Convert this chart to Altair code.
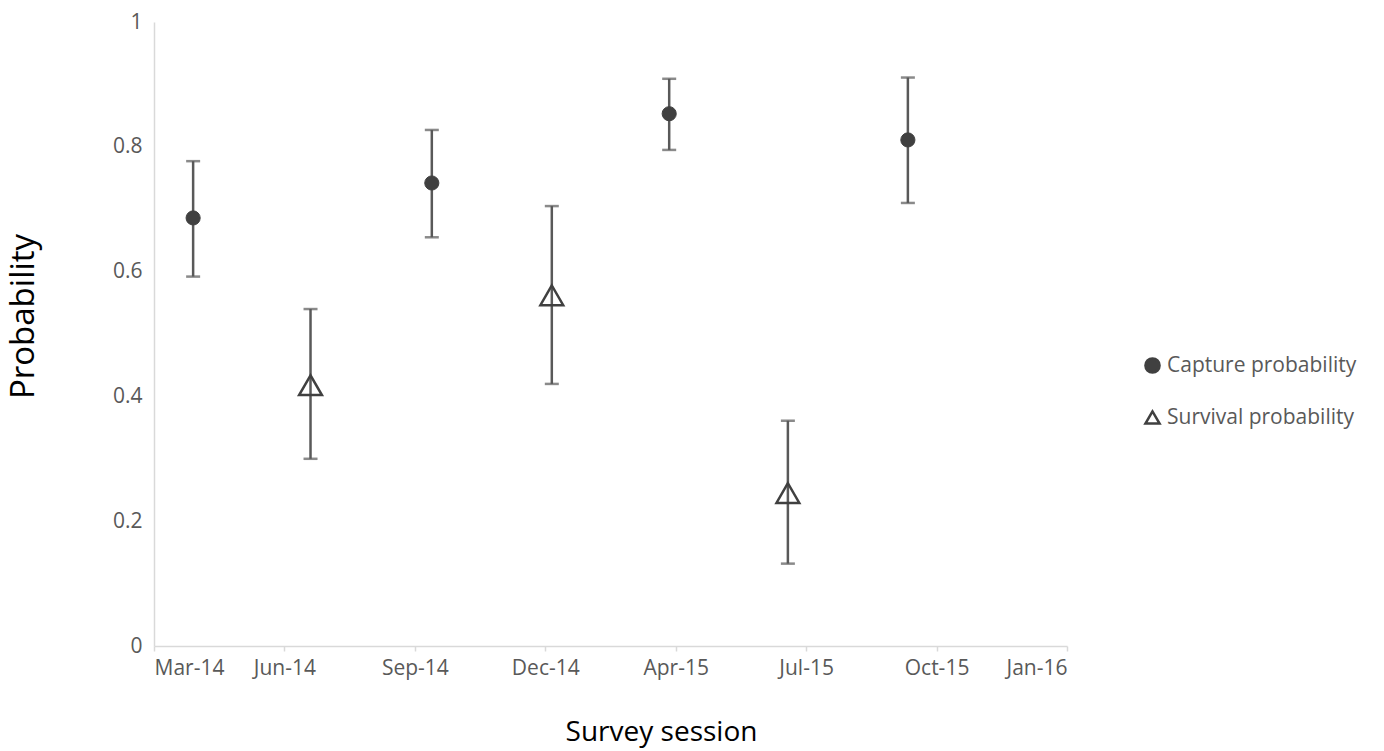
import altair as alt
import pandas as pd

# Survey sessions and estimated probabilities with 95% confidence limits
session_dates = ["2014-03-31", "2014-06-29", "2014-09-30", "2014-12-31",
                 "2015-03-31", "2015-06-30", "2015-09-30"]
series = ["Capture probability", "Survival probability", "Capture probability",
          "Survival probability", "Capture probability", "Survival probability",
          "Capture probability"]
estimate = [0.686, 0.418, 0.742, 0.562, 0.853, 0.245, 0.811]
lower = [0.592, 0.300, 0.655, 0.420, 0.795, 0.132, 0.710]
upper = [0.777, 0.540, 0.827, 0.705, 0.909, 0.361, 0.911]

# x axis ticks every 100 days from 1 March 2014
tick_dates = [(2014, 3, 1), (2014, 6, 9), (2014, 9, 17), (2014, 12, 26),
              (2015, 4, 5), (2015, 7, 14), (2015, 10, 22), (2016, 1, 30)]

df = pd.DataFrame({
    "date": session_dates,
    "series": series,
    "estimate": estimate,
    "lower": lower,
    "upper": upper,
})

def dt(y, m, d):
    return alt.DateTime(year=y, month=m, date=d, utc=True)

FONT = "Open Sans"
GREY = "#595959"
DARK = "#404040"
AXIS_LINE = "#d9d9d9"

x_enc = alt.X(
    "date:T",
    scale=alt.Scale(type="utc", domain=[dt(2014, 3, 1), dt(2016, 1, 30)]),
    axis=alt.Axis(
        title="Survey session",
        values=[dt(*t) for t in tick_dates],
        format="%b-%y",
        grid=False,
        domainColor=AXIS_LINE,
        domainWidth=1.5,
        tickColor=AXIS_LINE,
        tickWidth=1.5,
        tickSize=5,
        labelPadding=6,
        labelFontSize=21,
        labelColor=GREY,
        labelFont=FONT,
        titleFont=FONT,
        titleFontSize=28,
        titleFontWeight="normal",
        titleColor="#000000",
        titlePadding=40,
        titleX=507,
    ),
)

y_scale = alt.Scale(domain=[0, 1], nice=False, zero=True)
y_axis = alt.Axis(
    title="Probability",
    values=[0, 0.2, 0.4, 0.6, 0.8, 1.0],
    format=".1~f",
    grid=False,
    ticks=False,
    domainColor=AXIS_LINE,
    domainWidth=1.5,
    labelPadding=12,
    labelFontSize=21,
    labelColor=GREY,
    labelFont=FONT,
    titleFont=FONT,
    titleFontSize=33,
    titleFontWeight="normal",
    titleColor="#000000",
    titlePadding=72,
    titleY=294,
)

base = alt.Chart(df)

# vertical error bars with end caps
bars = base.mark_rule(color=GREY, strokeWidth=2.5).encode(
    x=x_enc,
    y=alt.Y("lower:Q", scale=y_scale, axis=y_axis),
    y2="upper:Q",
)

caps_low = base.mark_tick(orient="horizontal", color=GREY, size=14, thickness=2.5).encode(
    x="date:T",
    y="lower:Q",
)
caps_high = base.mark_tick(orient="horizontal", color=GREY, size=14, thickness=2.5).encode(
    x="date:T",
    y="upper:Q",
)

series_domain = ["Capture probability", "Survival probability"]
legend = alt.Legend(
    title=None,
    orient="none",
    legendX=988,
    legendY=333,
    symbolSize=200,
    symbolStrokeWidth=2.5,
    labelFont=FONT,
    labelFontSize=21,
    labelColor=GREY,
    labelOffset=4,
    labelLimit=400,
    rowPadding=28,
)

shape_enc = alt.Shape(
    "series:N",
    scale=alt.Scale(domain=series_domain, range=["circle", "triangle-up"]),
    legend=legend,
)
fill_enc = alt.Fill(
    "series:N",
    scale=alt.Scale(domain=series_domain, range=[DARK, "transparent"]),
    legend=legend,
)
stroke_enc = alt.Stroke(
    "series:N",
    scale=alt.Scale(domain=series_domain, range=[DARK, DARK]),
    legend=legend,
)

capture_pts = base.transform_filter(
    alt.datum.series == "Capture probability"
).mark_point(opacity=1, size=200, strokeWidth=1).encode(
    x="date:T",
    y="estimate:Q",
    shape=shape_enc,
    fill=fill_enc,
    stroke=stroke_enc,
)

survival_pts = base.transform_filter(
    alt.datum.series == "Survival probability"
).mark_point(opacity=1, size=520, strokeWidth=2.5).encode(
    x="date:T",
    y="estimate:Q",
    shape=shape_enc,
    fill=fill_enc,
    stroke=stroke_enc,
)

chart = alt.layer(bars, caps_low, caps_high, capture_pts, survival_pts).properties(
    width=913,
    height=624,
    autosize=alt.AutoSizeParams(type="none"),
    padding={"left": 154, "top": 22, "right": 317, "bottom": 105},
    background="white",
).configure_view(stroke=None)

chart.save("out.html", embed_options={"renderer": "svg", "actions": False})
